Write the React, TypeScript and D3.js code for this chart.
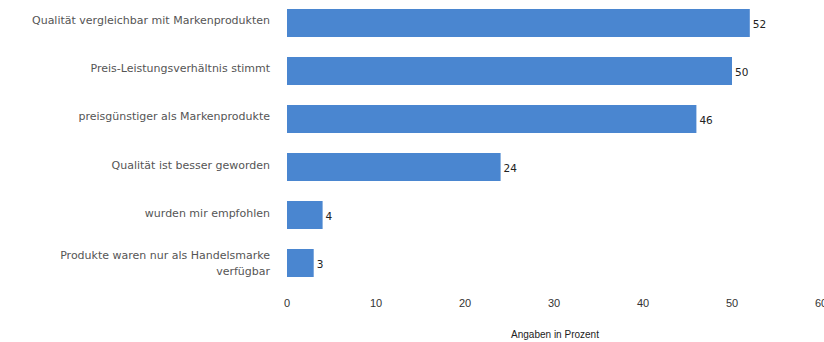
import React from "react";
import * as d3 from "d3";

const categories: string[][] = [
  ["Qualität vergleichbar mit Markenprodukten"],
  ["Preis-Leistungsverhältnis stimmt"],
  ["preisgünstiger als Markenprodukte"],
  ["Qualität ist besser geworden"],
  ["wurden mir empfohlen"],
  ["Produkte waren nur als Handelsmarke", "verfügbar"],
];
const values: number[] = [52, 50, 46, 24, 4, 3];
const xTicks: number[] = [0, 10, 20, 30, 40, 50, 60];
const xAxisTitle = "Angaben in Prozent";

const W = 824;
const H = 342;

export default function App() {
  const x = d3.scaleLinear().domain([0, 60]).range([287, 821]);
  const y = d3
    .scaleBand<number>()
    .domain(values.map((_, i) => i))
    .range([-1, 287])
    .paddingInner(0.4167)
    .paddingOuter(0.2083);
  const bw = y.bandwidth();
  return (
    <svg
      width={W}
      height={H}
      style={{ position: "absolute", left: 0, top: 0, background: "#fff" }}
    >
      {values.map((v, i) => {
        const y0 = y(i)!;
        const cy = y0 + bw / 2;
        const lines = categories[i];
        const lh = 16;
        return (
          <g key={i}>
            <rect x={x(0)} y={y0} width={x(v) - x(0)} height={bw} fill="#4a86d0" />
            <text
              x={x(v) + 3}
              y={cy + 1}
              dominantBaseline="central"
              fontFamily="DejaVu Sans"
              fontSize={10.5}
              fill="#222"
            >
              {v}
            </text>
            {lines.map((l, j) => (
              <text
                key={j}
                x={270}
                y={cy - 2 + (j - (lines.length - 1) / 2) * lh + (lines.length > 1 ? 2 : 0)}
                textAnchor="end"
                dominantBaseline="central"
                fontFamily="DejaVu Sans"
                fontSize={11}
                fill="#555"
              >
                {l}
              </text>
            ))}
          </g>
        );
      })}
      {xTicks.map((t) => (
        <text
          key={t}
          x={x(t)}
          y={303}
          textAnchor="middle"
          dominantBaseline="central"
          fontFamily="Liberation Sans"
          fontSize={11}
          fill="#333"
        >
          {t}
        </text>
      ))}
      <text
        x={555}
        y={334}
        textAnchor="middle"
        dominantBaseline="central"
        fontFamily="Liberation Sans"
        fontSize={10}
        fill="#222"
      >
        {xAxisTitle}
      </text>
    </svg>
  );
}
